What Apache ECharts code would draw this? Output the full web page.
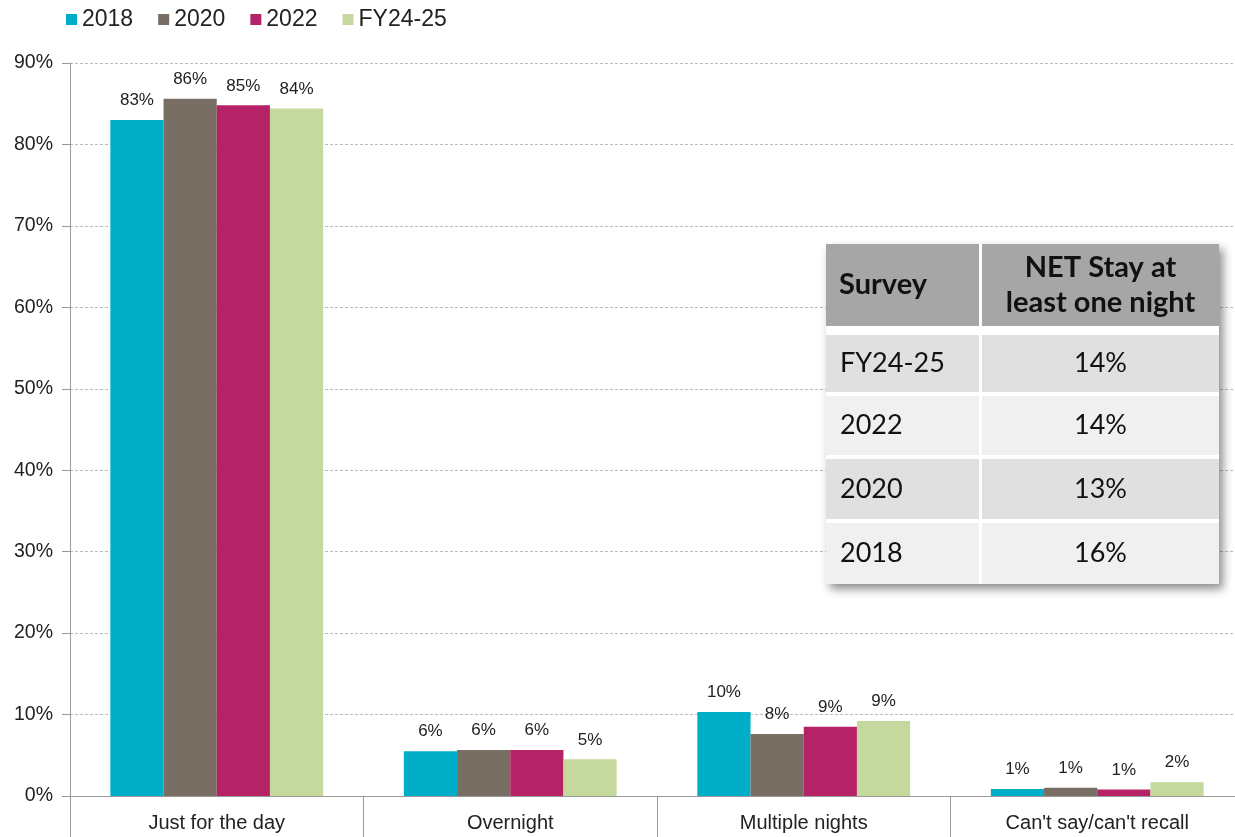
<!DOCTYPE html>
<html>
<head>
<meta charset="utf-8">
<script src="https://cdn.jsdelivr.net/npm/echarts@6/dist/echarts.min.js"></script>
<style>
  html, body { margin: 0; padding: 0; background: #fff; }
  #chart { width: 1235px; height: 837px; }
</style>
</head>
<body>
<div id="chart"></div>
<script>
// categories and series (values in %)
const categories = ["Just for the day", "Overnight", "Multiple nights", "Can't say/can't recall"];
const seriesNames = ["2018", "2020", "2022", "FY24-25"];
const v2018 = [83.0, 5.5, 10.3, 0.86];
const v2020 = [85.6, 5.65, 7.6, 1.0];
const v2022 = [84.8, 5.65, 8.5, 0.8];
const vFY = [84.4, 4.5, 9.2, 1.7];
const colors = ["#00aec7", "#786e64", "#b52266", "#c5d89d"];

// inset table
const tableHeader = ["Survey", "NET Stay at\nleast one night"];
const tableSurveys = ["FY24-25", "2022", "2020", "2018"];
const tableNet = ["14%", "14%", "13%", "16%"];

const chart = echarts.init(document.getElementById("chart"));

const allValues = [v2018, v2020, v2022, vFY];
const series = seriesNames.map((name, i) => ({
  name: name,
  type: "bar",
  data: allValues[i],
  barGap: "0%",
  barCategoryGap: "27.5%",
  itemStyle: { color: colors[i] },
  label: {
    show: true,
    position: "top",
    distance: 11,
    color: "#222",
    fontSize: 17,
    fontFamily: "Liberation Sans, Arial",
    formatter: (p) => Math.round(p.value) + "%",
  },
}));

// build table graphic
const col1 = 153, col2 = 237, colGap = 3;
const headH = 82, headGap = 9;
const rowH = [57, 59, 60, 61], rowGap = 4;
const totalH = headH + headGap + rowH.reduce((a, b) => a + b, 0) + rowGap * 3;
const fontT = "Lato, Noto Sans";
const Z = 100;
let tableChildren = [];
// white backing with drop shadow
tableChildren.push({
  type: "rect", z: Z,
  shape: { x: 0, y: 0, width: col1 + col2 + colGap, height: totalH },
  style: { fill: "#fff", shadowBlur: 9, shadowOffsetX: 4, shadowOffsetY: 5, shadowColor: "rgba(0,0,0,0.45)" },
});
tableChildren.push({ type: "rect", z: Z, shape: { x: 0, y: 0, width: col1, height: headH }, style: { fill: "#a6a6a6" } });
tableChildren.push({ type: "rect", z: Z, shape: { x: col1 + colGap, y: 0, width: col2, height: headH }, style: { fill: "#a6a6a6" } });
tableChildren.push({
  type: "text", z: Z + 1, x: 13, y: headH / 2,
  style: { text: tableHeader[0], fontSize: 29, fontWeight: "bold", fontFamily: fontT, fill: "#111", verticalAlign: "middle" },
});
tableChildren.push({
  type: "text", z: Z + 1, x: col1 + colGap + col2 / 2, y: headH / 2,
  style: { text: tableHeader[1], fontSize: 29, fontWeight: "bold", fontFamily: fontT, fill: "#111", align: "center", verticalAlign: "middle", lineHeight: 35 },
});
let ry = headH + headGap;
tableSurveys.forEach((s, i) => {
  const fill = i % 2 === 0 ? "#e0e0e0" : "#f0f0f0";
  tableChildren.push({ type: "rect", z: Z, shape: { x: 0, y: ry, width: col1, height: rowH[i] }, style: { fill: fill } });
  tableChildren.push({ type: "rect", z: Z, shape: { x: col1 + colGap, y: ry, width: col2, height: rowH[i] }, style: { fill: fill } });
  tableChildren.push({
    type: "text", z: Z + 1, x: 14, y: ry + rowH[i] / 2,
    style: { text: s, fontSize: 27, fontFamily: fontT, fill: "#111", verticalAlign: "middle" },
  });
  tableChildren.push({
    type: "text", z: Z + 1, x: col1 + colGap + col2 / 2, y: ry + rowH[i] / 2,
    style: { text: tableNet[i], fontSize: 27, fontFamily: fontT, fill: "#111", align: "center", verticalAlign: "middle" },
  });
  ry += rowH[i] + rowGap;
});

const option = {
  animation: false,
  color: colors,
  textStyle: { fontFamily: "Liberation Sans, Arial" },
  legend: {
    data: seriesNames,
    left: 66,
    top: 8,
    padding: 0,
    icon: "rect",
    itemWidth: 11,
    itemHeight: 11,
    itemGap: 25,
    textStyle: { fontSize: 23, color: "#222", padding: [0, 0, 0, 0] },
  },
  grid: { left: 70, width: 1174, top: 63, bottom: 41, outerBoundsMode: "none", containLabel: false },
  xAxis: {
    type: "category",
    data: categories,
    axisLine: { lineStyle: { color: "#999", width: 1 } },
    axisTick: { show: true, length: 42, lineStyle: { color: "#999" } },
    axisLabel: { color: "#222", fontSize: 20, margin: 17 },
  },
  yAxis: {
    type: "value",
    min: 0,
    max: 90,
    interval: 10,
    axisLine: { show: true, lineStyle: { color: "#999" } },
    axisTick: { show: true, length: 8, lineStyle: { color: "#999" } },
    axisLabel: { color: "#222", fontSize: 19.5, margin: 17, formatter: "{value}%" },
    splitLine: { lineStyle: { color: "#bbb", type: [3, 2] } },
  },
  series: series,
  graphic: [{ type: "group", left: 826, top: 244, z: Z, children: tableChildren }],
};
chart.setOption(option);
</script>
</body>
</html>
